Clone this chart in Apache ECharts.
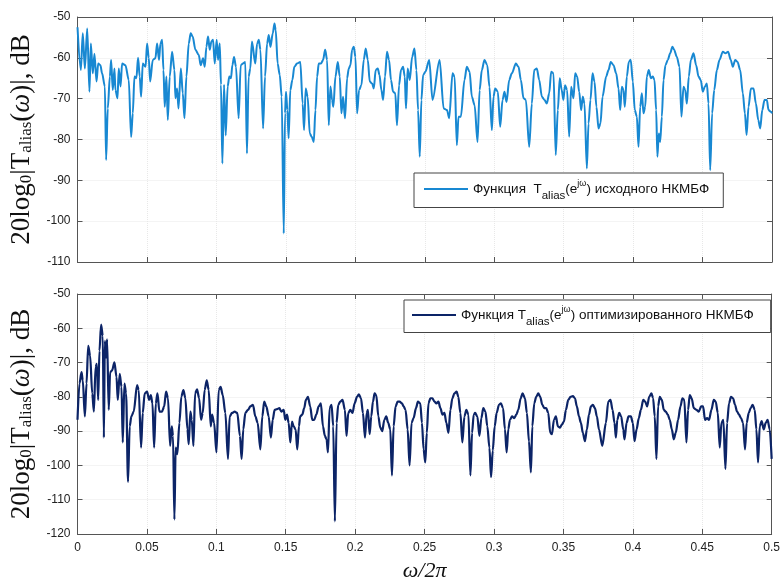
<!DOCTYPE html>
<html>
<head>
<meta charset="utf-8">
<script src="https://cdn.jsdelivr.net/npm/echarts@6/dist/echarts.min.js"></script>
<style>
html, body { margin: 0; padding: 0; background: #fff; }
#chart { width: 783px; height: 583px; }
</style>
</head>
<body>
<div id="chart"></div>
<script>
// верхний график: исходный НКМБФ (частота w/2pi, дБ)
var topFreq = [0.000,0.0024,0.0038,0.0053,0.007,0.0086,0.0096,0.011,0.0122,0.0137,0.0149,0.0165,0.0177,0.0197,0.0206,0.0218,0.0233,0.0242,0.0254,0.0266,0.0273,0.0288,0.0297,0.031,0.0321,0.0345,0.0369,0.0386,0.0398,0.041,0.0424,0.0436,0.0448,0.0458,0.047,0.049,0.0501,0.0513,0.0523,0.0542,0.0561,0.0573,0.0587,0.0597,0.0609,0.0619,0.0628,0.064,0.065,0.0664,0.0681,0.0698,0.0705,0.0717,0.0727,0.0744,0.0758,0.077,0.0784,0.0801,0.0815,0.0829,0.0849,0.0873,0.0887,0.0904,0.0916,0.0928,0.094,0.0952,0.0964,0.0976,0.0988,0.1002,0.1012,0.1024,0.1033,0.1043,0.1055,0.1067,0.1081,0.1093,0.1105,0.1115,0.1127,0.1141,0.116,0.1175,0.1191,0.1208,0.122,0.1232,0.1244,0.1256,0.128,0.1293,0.1305,0.1317,0.1336,0.135,0.1365,0.1377,0.1389,0.1406,0.1418,0.1427,0.1441,0.1456,0.147,0.1485,0.1494,0.1501,0.1511,0.152,0.1532,0.1547,0.1561,0.158,0.1604,0.1621,0.1631,0.1643,0.1657,0.1672,0.1686,0.1701,0.1713,0.1725,0.1737,0.1754,0.1768,0.1783,0.1797,0.1809,0.1821,0.1833,0.1842,0.1857,0.1874,0.1888,0.19,0.1912,0.1926,0.1941,0.1953,0.1965,0.1977,0.1989,0.2001,0.2013,0.2027,0.2044,0.2061,0.2075,0.209,0.2104,0.2121,0.2133,0.2147,0.2162,0.2174,0.2188,0.22,0.2214,0.2228,0.2243,0.2257,0.2272,0.2288,0.23,0.2315,0.2329,0.2344,0.2356,0.2365,0.2377,0.2392,0.2409,0.2426,0.244,0.2452,0.2464,0.2476,0.2488,0.2505,0.2532,0.2556,0.2607,0.2636,0.266,0.2676,0.27,0.2715,0.2731,0.2743,0.276,0.2786,0.2803,0.2823,0.2839,0.2859,0.288,0.2895,0.2911,0.293,0.295,0.2966,0.2983,0.2995,0.3007,0.3026,0.3043,0.306,0.3074,0.3089,0.3108,0.3127,0.3156,0.3175,0.3192,0.3211,0.3228,0.3252,0.3271,0.3288,0.3307,0.3324,0.3343,0.3362,0.3379,0.3396,0.341,0.3427,0.3443,0.3458,0.3472,0.3486,0.3498,0.351,0.3525,0.354,0.3554,0.3571,0.3583,0.3597,0.3612,0.3626,0.3638,0.365,0.3667,0.3679,0.3693,0.3708,0.3722,0.3736,0.3751,0.3765,0.378,0.3806,0.3823,0.3839,0.3859,0.3878,0.3895,0.3907,0.3919,0.3931,0.394,0.3955,0.3969,0.3983,0.3998,0.4012,0.4027,0.4039,0.4051,0.4063,0.4075,0.4087,0.4099,0.4113,0.4128,0.4142,0.4154,0.4166,0.4175,0.4185,0.4195,0.4207,0.4219,0.4233,0.425,0.4267,0.4283,0.4295,0.4315,0.4334,0.4348,0.4363,0.4375,0.4387,0.4401,0.4416,0.4435,0.4454,0.4471,0.4487,0.4502,0.4516,0.4531,0.4543,0.4555,0.4569,0.4584,0.4603,0.4622,0.4646,0.4665,0.4684,0.4703,0.4718,0.4735,0.4752,0.4771,0.479,0.4805,0.4817,0.4831,0.4848,0.4867,0.4884,0.4901,0.4915,0.493,0.4946,0.4963,0.4975,0.4992,0.5];
var topDb = [-52.5,-63,-54,-62.6,-52.8,-68.3,-56.5,-63.8,-59,-65.8,-61.4,-61.8,-63.8,-67,-85,-72.4,-64.6,-60.5,-67.9,-62.6,-67.9,-69.9,-62.6,-67,-61.4,-61.8,-65.4,-79.4,-73.6,-64.6,-65,-60,-64.6,-69.5,-61.4,-62.2,-56.5,-60,-65.8,-60.5,-60.1,-56.5,-60.5,-56.5,-55.6,-63,-72,-64.6,-75.2,-64.6,-58.5,-63,-69.9,-67.5,-72.4,-62.6,-68.7,-74.8,-64.6,-56.5,-54,-54.8,-58,-59.3,-61.8,-60.1,-62.2,-57.3,-54.8,-58,-56,-55.6,-61.4,-55.6,-60.5,-56.5,-66.6,-85.9,-66.6,-79,-67,-64.6,-65,-61.8,-59.8,-62.2,-74.8,-61.8,-61.4,-61,-83.4,-64.6,-62.6,-56,-61.4,-56.5,-55.6,-58,-77.3,-64.6,-56.5,-54.4,-57.3,-54,-51.6,-53.2,-61.4,-64.2,-69.5,-103,-73.6,-68.3,-72.8,-79.7,-67.9,-65.4,-62.2,-61.4,-61,-71.2,-77.7,-67.5,-69.5,-78.5,-79.3,-80.6,-72.8,-64.6,-61.4,-61.4,-60.5,-58,-60.5,-76.5,-67,-70.3,-72,-64.6,-61,-64.6,-73.6,-69.5,-74.8,-65,-62.6,-61.8,-58,-57.3,-59.8,-73.6,-67.9,-66.7,-60.5,-57.7,-60.5,-65.8,-66.3,-67.5,-63,-62.6,-64.2,-67.9,-70.3,-64.6,-58.5,-60.5,-65.4,-68.3,-68.7,-76.5,-66.7,-63,-62.2,-64.6,-72.4,-62.6,-65.4,-59.8,-57.7,-63,-72.8,-84.2,-70.3,-64.2,-63.4,-60.5,-70.3,-60.5,-72.4,-72.8,-74.8,-63.8,-64.6,-81.4,-74.4,-74.4,-65.4,-62.2,-63.4,-69.5,-71.6,-80.6,-67.9,-63,-60.5,-61.8,-67.1,-77.7,-69.5,-67.5,-68.3,-76.9,-70.3,-68.3,-70.8,-65.4,-63.8,-61.4,-62.2,-65.4,-69.9,-70.3,-81.8,-71.2,-63,-62.6,-65.4,-69.5,-70.3,-71.2,-68.7,-63.4,-63.8,-83.8,-72.8,-65,-67.9,-70.3,-66.7,-67.9,-79.3,-67.1,-69.9,-63.8,-64.6,-68.3,-72.8,-69.5,-71.2,-87.1,-76.1,-70.3,-63.8,-65.8,-72,-77.3,-76.1,-69.5,-64.6,-63,-61,-61.8,-63.8,-67.5,-72.8,-67.1,-67.9,-72,-64.6,-61,-60.5,-65.8,-72.8,-74.4,-81.8,-72,-68.7,-73.6,-72,-64.6,-63,-65,-64.6,-65.4,-72.8,-84.2,-78.5,-80.6,-74.4,-65.4,-61.8,-60.5,-58.9,-57.3,-58,-59.8,-62.2,-74.4,-67.1,-67.9,-71.2,-64.6,-60.5,-58.9,-61.8,-64.6,-65.4,-68.3,-67.1,-66.3,-71.2,-87.5,-73.6,-67.9,-63,-60.5,-58.5,-58.9,-58.5,-60.5,-62.2,-60.5,-61,-63,-68.7,-73.6,-78.9,-72,-67.5,-67.5,-71.2,-75.2,-77.3,-72.8,-70.3,-70.3,-72.8,-73.2,-73.6];

// нижний график: оптимизированный НКМБФ
var botFreq = [0,0.0014,0.0029,0.0038,0.0053,0.0065,0.0077,0.0091,0.0106,0.0118,0.013,0.0139,0.0149,0.0158,0.017,0.0182,0.019,0.0197,0.0206,0.0213,0.0225,0.0235,0.0249,0.0266,0.0281,0.029,0.0304,0.0317,0.0326,0.0338,0.035,0.0364,0.0376,0.0388,0.0405,0.0429,0.0441,0.0458,0.047,0.0484,0.0501,0.0516,0.0528,0.054,0.0552,0.0564,0.0576,0.059,0.0609,0.0624,0.0638,0.0652,0.0667,0.0679,0.0688,0.0698,0.0707,0.0719,0.0734,0.0748,0.0763,0.0777,0.0792,0.0801,0.0813,0.0823,0.0835,0.0847,0.0861,0.0876,0.089,0.0902,0.0916,0.0931,0.0945,0.096,0.0969,0.0984,0.1001,0.1017,0.1031,0.1046,0.1065,0.1084,0.1096,0.1113,0.1132,0.1151,0.117,0.1182,0.1194,0.1209,0.1228,0.1245,0.1264,0.1281,0.1298,0.1317,0.1331,0.1345,0.136,0.1377,0.1393,0.1406,0.142,0.1437,0.1454,0.1468,0.1485,0.1497,0.1509,0.1521,0.1533,0.1545,0.1557,0.1571,0.1583,0.1595,0.1604,0.1619,0.1633,0.1645,0.166,0.1676,0.1691,0.1705,0.172,0.1737,0.1753,0.1768,0.1782,0.1794,0.1804,0.1816,0.183,0.1842,0.1854,0.1866,0.1878,0.1893,0.1909,0.1926,0.1938,0.195,0.1965,0.1981,0.1996,0.2013,0.2027,0.2042,0.2056,0.2071,0.2083,0.2092,0.2104,0.2116,0.2128,0.214,0.2152,0.2167,0.2181,0.2195,0.221,0.2224,0.2238,0.2253,0.2265,0.2277,0.2291,0.2306,0.232,0.2337,0.2349,0.2363,0.2378,0.2392,0.2406,0.2421,0.2438,0.2452,0.2469,0.2481,0.2493,0.2505,0.2516,0.2528,0.2542,0.2556,0.2571,0.2585,0.26,0.2614,0.2629,0.2643,0.2657,0.2672,0.2686,0.27,0.2715,0.2731,0.2743,0.2758,0.2772,0.2787,0.2801,0.2816,0.283,0.2842,0.2854,0.2864,0.288,0.2895,0.2909,0.2923,0.2938,0.2952,0.2967,0.2979,0.2991,0.3005,0.3019,0.3036,0.305,0.3065,0.3079,0.3091,0.3103,0.3115,0.313,0.3146,0.3161,0.3175,0.3192,0.3206,0.3223,0.3237,0.3252,0.3266,0.3276,0.329,0.3304,0.3319,0.3333,0.3348,0.3362,0.3376,0.3391,0.3405,0.3417,0.3432,0.3446,0.346,0.3475,0.3489,0.3504,0.3518,0.3535,0.3551,0.3568,0.3583,0.3597,0.3612,0.3626,0.364,0.3655,0.3669,0.3684,0.3698,0.3712,0.3727,0.3741,0.3756,0.378,0.3806,0.3823,0.3839,0.3854,0.3868,0.3878,0.3888,0.3902,0.3916,0.3931,0.394,0.3955,0.3969,0.3986,0.4,0.4012,0.4027,0.4043,0.4058,0.4075,0.4089,0.4103,0.4118,0.4134,0.4146,0.4158,0.417,0.4182,0.4194,0.4209,0.4223,0.4237,0.4252,0.4266,0.4281,0.4295,0.4309,0.4326,0.4343,0.4357,0.4371,0.4386,0.4398,0.441,0.4424,0.4439,0.4458,0.4475,0.4492,0.4506,0.452,0.4535,0.4549,0.4566,0.4583,0.4597,0.4612,0.4626,0.4638,0.4652,0.4667,0.4679,0.4693,0.4707,0.4722,0.4736,0.4751,0.4765,0.4779,0.4794,0.4808,0.482,0.4835,0.4849,0.4863,0.4878,0.489,0.4902,0.4914,0.4928,0.4943,0.4957,0.4971,0.4986,0.5];
var botDb = [-86.7,-76.1,-72.8,-75.2,-85.7,-76.1,-65.1,-68,-79,-84.3,-71.3,-70.4,-80.9,-66.6,-58.9,-62.2,-91.9,-63.7,-68.5,-63.2,-83.8,-72.8,-72.3,-69.9,-74.2,-80.9,-73.3,-77.1,-93.3,-76.1,-79,-104.8,-88.6,-85.7,-84.3,-76.6,-78,-94.8,-84.7,-79,-78.5,-80.9,-79.5,-81.9,-94.8,-81.9,-79,-84.3,-84.3,-82.8,-78.5,-80.4,-94.3,-88.6,-91.4,-115.8,-94.8,-96.7,-87.6,-79.9,-78,-80.4,-89.5,-93.8,-84.3,-86.7,-94.3,-79,-77.8,-80.4,-86.7,-84.7,-78,-75.2,-78,-88.6,-85.2,-87.6,-96.2,-78,-77.1,-79.5,-84.7,-98.1,-85.7,-84.7,-84.3,-84.7,-91.4,-98.1,-89.5,-84.7,-83.8,-82.8,-82.3,-85.7,-87.6,-95.3,-85.7,-81.4,-82.8,-85.7,-91.9,-86.7,-83.8,-83.6,-83.3,-84.3,-83.8,-86.7,-85.2,-87.6,-93.3,-87.2,-88.6,-89.5,-95.3,-88.6,-85.7,-85.2,-83.3,-80.9,-80,-82.8,-86.7,-86.7,-85.2,-82.8,-81.9,-88.6,-91.4,-92.4,-96.2,-83.3,-82.3,-88.6,-116.3,-87.6,-82.3,-81.4,-80.9,-83.8,-91.4,-84.7,-83.8,-84.7,-81.9,-80,-79.3,-80.4,-84.7,-91.9,-84.7,-83.8,-90.9,-85.7,-81.4,-79,-79.5,-85.7,-89,-90,-86.7,-85.7,-87.6,-89.5,-102.9,-88.6,-82.8,-81.4,-81.4,-81.9,-82.8,-83.8,-89.5,-100,-87.6,-86.2,-83.3,-81.4,-81.9,-87.6,-95.3,-99.1,-90.5,-81.9,-80.4,-80.4,-81.4,-81.9,-81.4,-83.3,-85.2,-84.7,-87.6,-90.5,-83.8,-80.4,-79,-78.5,-80,-84.7,-93.3,-85.7,-83.8,-85.2,-102.9,-90.5,-85.2,-84.7,-85.7,-91.4,-86.2,-83.3,-84.3,-88.6,-94.8,-103.4,-95.7,-88.6,-84.7,-82.3,-81.9,-83.3,-89.5,-96.2,-89.5,-86.7,-85.7,-86.2,-85.2,-83.8,-80.4,-79,-80.4,-84.7,-93,-102,-88.6,-81.9,-80,-79,-80,-82.3,-83.3,-83.3,-84.7,-90.5,-90.9,-86.7,-85.7,-88.6,-89,-88.1,-87.2,-83.8,-80.9,-80,-79.8,-80.4,-82.8,-85.7,-87.6,-90.5,-92.9,-89.5,-85.2,-82.8,-82.3,-83.3,-85.7,-89.5,-94.3,-87.6,-81.4,-80.9,-83.8,-87.6,-91.9,-86.7,-84.7,-85.7,-89.5,-92.4,-87.6,-85.7,-85.7,-87.6,-92.9,-89.5,-86.2,-83.8,-80.9,-81.4,-82.8,-80,-79,-80.4,-85.7,-98.1,-82.8,-80,-80.9,-83.8,-84.3,-85.2,-86.7,-89.5,-92.4,-90.5,-86.7,-82.8,-80.4,-80.9,-93.3,-83.8,-79.5,-80.4,-83.3,-83.8,-84.3,-82.8,-82.8,-86.7,-86.2,-86.7,-83.8,-80.9,-81.4,-84.7,-94.8,-87.6,-86.7,-101,-87.6,-81.9,-80,-80.4,-82.3,-84.3,-85.2,-86.2,-87.6,-95.3,-87.6,-84.7,-83.3,-82.3,-83.8,-89.5,-99.1,-88.6,-87.1,-89.5,-87.6,-86.7,-89.5,-98.1];

var xTicks = { min: 0, max: 0.5, interval: 0.05 };
var topLegend = 'Функция  T_alias(e^jω) исходного НКМБФ';
var botLegend = 'Функция T_alias(e^jω) оптимизированного НКМБФ';

var chart = echarts.init(document.getElementById('chart'), null, { renderer: 'canvas' });

var axisColor = '#555';
var sans = 'Liberation Sans';
var serif = 'Liberation Serif';

function pairs(xs, ys) {
  return xs.map(function (x, i) { return [x, ys[i]]; });
}

function xAxisFor(gridIndex, pos, labels) {
  return {
    type: 'value', gridIndex: gridIndex, position: pos,
    min: xTicks.min, max: xTicks.max, interval: xTicks.interval,
    axisLine: { show: true, onZero: false, lineStyle: { color: axisColor, width: 1 } },
    axisTick: { show: true, inside: true, length: 5, lineStyle: { color: axisColor } },
    axisLabel: { show: labels, color: '#222', fontFamily: sans, fontSize: 12, margin: 8 },
    splitLine: { show: pos === 'bottom', lineStyle: { color: '#e8e8e8', type: 'dotted' } }
  };
}

function yAxisFor(gridIndex, pos, min, labels) {
  var ax = {
    type: 'value', gridIndex: gridIndex, position: pos,
    min: min, max: -50, interval: 10,
    axisLine: { show: true, onZero: false, lineStyle: { color: axisColor, width: 1 } },
    axisTick: { show: true, inside: true, length: 5, lineStyle: { color: axisColor } },
    axisLabel: { show: labels, color: '#222', fontFamily: sans, fontSize: 12, margin: 7 },
    splitLine: { show: pos === 'left', lineStyle: { color: '#e8e8e8', type: 'dotted' } }
  };
  if (labels) {
    ax.name = '{a|20log}{s|0}{a||T}{s|alias}{a|(}{i|ω}{a|)|, dB}';
    ax.nameLocation = 'middle';
    ax.nameGap = 42;
    ax.nameTextStyle = {
      color: '#111',
      rich: {
        a: { fontFamily: serif, fontSize: 27, color: '#111' },
        i: { fontFamily: serif, fontSize: 27, fontStyle: 'italic', color: '#111' },
        s: { fontFamily: serif, fontSize: 17, color: '#111', padding: [11, 0, 0, 0] }
      }
    };
  }
  return ax;
}

function legendText(name) {
  if (name === topLegend) {
    return '{n|Функция  T}{s|alias}{n|(e}{p|jω}{n|) исходного НКМБФ}';
  }
  return '{n|Функция T}{s|alias}{n|(e}{p|jω}{n|) оптимизированного НКМБФ}';
}

var legendRich = {
  n: { fontFamily: sans, fontSize: 13.5, color: '#111', height: 24, verticalAlign: 'middle' },
  s: { fontFamily: sans, fontSize: 11.5, color: '#111', height: 24, padding: [13, 0, 0, 0] },
  p: { fontFamily: sans, fontSize: 9, color: '#111', height: 24, padding: [0, 0, 11, 0] }
};

var option = {
  backgroundColor: '#ffffff',
  animation: false,
  grid: [
    { left: 77, top: 17, width: 695, height: 245, containLabel: false },
    { left: 77, top: 294, width: 695, height: 243, containLabel: false }
  ],
  xAxis: [
    xAxisFor(0, 'bottom', false),
    xAxisFor(0, 'top', false),
    Object.assign(xAxisFor(1, 'bottom', true), {
      name: 'ω/2π', nameLocation: 'middle', nameGap: 26,
      nameTextStyle: { fontFamily: serif, fontSize: 22, fontStyle: 'italic', color: '#111' }
    }),
    xAxisFor(1, 'top', false)
  ],
  yAxis: [
    yAxisFor(0, 'left', -110, true),
    yAxisFor(0, 'right', -110, false),
    yAxisFor(1, 'left', -120, true),
    yAxisFor(1, 'right', -120, false)
  ],
  legend: [
    {
      data: [topLegend], left: 414, top: 173,
      icon: 'rect', itemWidth: 44, itemHeight: 2, itemGap: 8,
      padding: [6, 14, 6, 10],
      backgroundColor: '#fff', borderColor: '#444', borderWidth: 1, borderRadius: 0,
      formatter: legendText, textStyle: { rich: legendRich }
    },
    {
      data: [botLegend], left: 404, top: 300,
      icon: 'rect', itemWidth: 44, itemHeight: 2, itemGap: 8,
      padding: [5, 17, 5, 8],
      backgroundColor: '#fff', borderColor: '#444', borderWidth: 1, borderRadius: 0,
      formatter: legendText, textStyle: { rich: legendRich }
    }
  ],
  series: [
    {
      name: topLegend, type: 'line', xAxisIndex: 0, yAxisIndex: 0,
      data: pairs(topFreq, topDb),
      symbol: 'none', smooth: 0.3, smoothMonotone: 'x',
      lineStyle: { color: '#1888d2', width: 2 },
      itemStyle: { color: '#1888d2' },
      z: 2
    },
    {
      name: botLegend, type: 'line', xAxisIndex: 2, yAxisIndex: 2,
      data: pairs(botFreq, botDb),
      symbol: 'none', smooth: 0.3, smoothMonotone: 'x',
      lineStyle: { color: '#0c2467', width: 2.2 },
      itemStyle: { color: '#0c2467' },
      z: 2
    }
  ]
};

chart.setOption(option);
</script>
</body>
</html>
